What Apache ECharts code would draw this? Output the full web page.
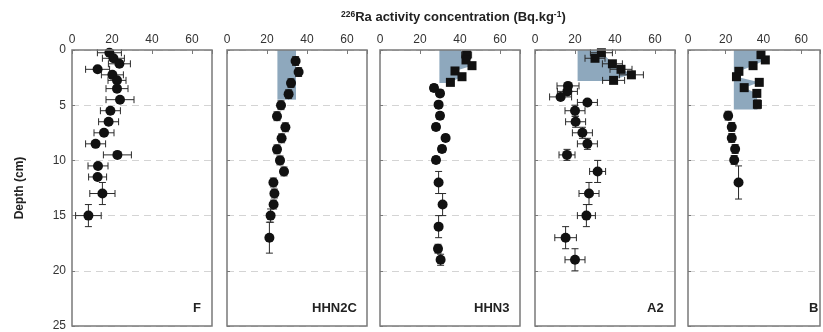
<!DOCTYPE html>
<html>
<head>
<meta charset="utf-8">
<script src="https://cdn.jsdelivr.net/npm/echarts@6/dist/echarts.min.js"></script>
<style>
  html, body { margin: 0; padding: 0; background: #fff; }
  #chart { width: 823px; height: 332px; }
</style>
</head>
<body>
<div id="chart"></div>
<script>
// panel names
var panelNames = ['F', 'HHN2C', 'HHN3', 'A2', 'B'];

// F
var fVal   = [18.7, 20.7, 23.7, 12.8, 20.2, 22.5, 22.5, 24, 19.2, 18.3, 16, 11.8, 22.7, 13, 12.8, 15.2, 8.2];
var fDepth = [0.25, 0.75, 1.25, 1.75, 2.25, 2.75, 3.5, 4.5, 5.5, 6.5, 7.5, 8.5, 9.5, 10.5, 11.5, 13, 15];
var fXErr  = [6, 5.5, 5.5, 6, 5.5, 4.5, 5.5, 7, 5, 5, 5, 5, 7, 5, 4.5, 6.3, 6.4];
var fYErr  = [0, 0, 0, 0, 0, 0, 0, 0, 0, 0, 0, 0, 0, 0, 0, 1, 1];

// HHN2C
var h2Val   = [34.3, 35.8, 32, 30.8, 27, 25, 29.2, 27.3, 25, 26.5, 28.5, 23.2, 23.7, 23.3, 21.8, 21.2];
var h2Depth = [1, 2, 3, 4, 5, 6, 7, 8, 9, 10, 11, 12, 13, 14, 15, 17];
var h2XErr  = [1.5, 1.5, 1.5, 1.5, 1.5, 1.5, 1.5, 1.5, 1.5, 1.5, 1.5, 1.5, 1.5, 1.5, 1.5, 1.5];
var h2YErr  = [0.4, 0.4, 0.4, 0.4, 0.4, 0.4, 0.4, 0.4, 0.4, 0.4, 0.4, 0.4, 0.4, 0.4, 0.6, 1.4];
var h2Shade = [[25.2, 0], [34.5, 0], [34.5, 4.5], [25.2, 4.5]];
var h2Squares = 0;

// HHN3
var h3Val   = [43.3, 43, 46, 37.5, 41, 35.2, 27, 30, 29.3, 30, 28, 32.8, 31, 28, 29.3, 31.3, 29.3, 29, 30.3];
var h3Depth = [0.45, 0.9, 1.42, 1.9, 2.42, 2.93, 3.44, 3.93, 4.95, 5.95, 6.97, 7.97, 8.97, 9.96, 12, 14, 16, 18, 19];
var h3XErr  = [2.5, 1.5, 1.5, 1.5, 1.5, 1.5, 1.7, 1.5, 1.5, 1.5, 1.5, 1.5, 1.5, 1.5, 1.5, 1.5, 1.5, 1.5, 1.5];
var h3YErr  = [0.3, 0.3, 0.3, 0.3, 0.3, 0.3, 0.3, 0.3, 0.3, 0.3, 0.3, 0.3, 0.3, 0.3, 1, 1, 1, 0.4, 0.5];
var h3Shade = [[29.7, 0], [40, 0], [43.3, 0.45], [43, 0.9], [46, 1.42], [37.5, 1.9], [41, 2.42], [35.2, 2.93], [35.2, 3.0], [29.7, 3.0]];
var h3Squares = 6;

// A2
var a2Val   = [33.2, 30, 38.7, 43, 48.2, 39.3, 16.5, 16.2, 12.8, 26.2, 20, 20.3, 23.7, 26.2, 16, 31.3, 27, 25.7, 15.3, 20];
var a2Depth = [0.25, 0.75, 1.25, 1.75, 2.25, 2.75, 3.25, 3.75, 4.25, 4.75, 5.5, 6.5, 7.5, 8.5, 9.5, 11, 13, 15, 17, 19];
var a2XErr  = [5.5, 5, 5, 5.5, 6, 5.5, 5.5, 5, 5.5, 5, 5, 5, 5, 5, 4, 4, 5, 4.5, 5.4, 5];
var a2YErr  = [0.25, 0.25, 0.25, 0.25, 0.25, 0.25, 0.25, 0.25, 0.25, 0.25, 0.5, 0.5, 0.5, 0.5, 0.5, 1, 1, 1, 1, 1];
var a2Shade = [[21.3, 0], [33.2, 0], [33.2, 0.21], [38.7, 1.18], [43, 1.69], [48.2, 2.17], [39.3, 2.69], [39.3, 2.8], [21.3, 2.8]];
var a2Squares = 6;

// B
var bVal   = [38.7, 41, 34.5, 27, 25.7, 37.8, 29.8, 36.5, 36.8, 21.3, 23.2, 23.2, 25, 24.5, 26.8];
var bDepth = [0.42, 0.9, 1.42, 1.93, 2.42, 2.93, 3.41, 3.93, 4.92, 5.95, 6.97, 7.97, 8.97, 9.96, 12];
var bXErr  = [1.5, 1.5, 1.5, 1.5, 1.5, 1.5, 1.5, 1.5, 1.5, 1.5, 1.5, 1.5, 1.5, 1.5, 1.5];
var bYErr  = [0.3, 0.3, 0.3, 0.3, 0.3, 0.3, 0.3, 0.3, 0.4, 0.4, 0.4, 0.4, 0.4, 0.4, 1.5];
var bShade = [[24.3, 0], [35.7, 0], [38.7, 0.42], [41, 0.9], [34.5, 1.42], [27, 1.93], [25.7, 2.42], [37.8, 2.93], [29.8, 3.41], [36.5, 3.93], [36.8, 4.92], [36.8, 5.4], [24.3, 5.4]];
var bSquares = 9;

var xTicks = [0, 20, 40, 60];
var yTicks = [0, 5, 10, 15, 20, 25];

var panels = [
    { val: fVal, depth: fDepth, xErr: fXErr, yErr: fYErr, shade: null, squares: 0 },
    { val: h2Val, depth: h2Depth, xErr: h2XErr, yErr: h2YErr, shade: h2Shade, squares: h2Squares },
    { val: h3Val, depth: h3Depth, xErr: h3XErr, yErr: h3YErr, shade: h3Shade, squares: h3Squares },
    { val: a2Val, depth: a2Depth, xErr: a2XErr, yErr: a2YErr, shade: a2Shade, squares: a2Squares },
    { val: bVal, depth: bDepth, xErr: bXErr, yErr: bYErr, shade: bShade, squares: bSquares }
];

var gridLefts = [72, 227, 380, 535, 688];
var font = 'Liberation Sans, Arial, sans-serif';
var shadeColor = '#8ea8bd';

var grids = [], xAxes = [], yAxes = [], series = [], graphics = [];

panels.forEach(function (p, i) {
    grids.push({
        left: gridLefts[i], top: 50, width: 140, height: 276,
        show: true, borderColor: '#7a7a7a', borderWidth: 1.5, z: 5
    });
    xAxes.push({
        gridIndex: i, type: 'value', position: 'top',
        min: 0, max: 70, interval: 20,
        axisLine: { show: false },
        axisTick: { show: true, inside: true, length: 4, lineStyle: { color: '#7a7a7a' } },
        splitLine: { show: false },
        axisLabel: {
            color: '#333', fontSize: 12, fontFamily: font, margin: 4,
            formatter: function (v) { return xTicks.indexOf(v) >= 0 ? String(v) : ''; }
        }
    });
    yAxes.push({
        gridIndex: i, type: 'value', inverse: true,
        min: 0, max: 25, interval: 5,
        name: i === 0 ? 'Depth (cm)' : '',
        nameLocation: 'middle', nameGap: 46, nameRotate: 90,
        nameTextStyle: { fontWeight: 'bold', fontSize: 12, fontFamily: font, color: '#222' },
        axisLine: { show: false },
        axisTick: { show: true, inside: true, length: 3, lineStyle: { color: '#7a7a7a' } },
        splitLine: { show: true, lineStyle: { color: '#d4d4d4', type: [7, 5], width: 1 } },
        axisLabel: {
            show: i === 0, color: '#333', fontSize: 12, fontFamily: font, margin: 6,
            formatter: function (v) { return yTicks.indexOf(v) >= 0 ? String(v) : ''; }
        }
    });

    if (p.shade) {
        var shadePts = p.shade;
        series.push({
            type: 'custom', xAxisIndex: i, yAxisIndex: i, z: 1, silent: true,
            data: shadePts,
            renderItem: function (params, api) {
                if (params.dataIndex !== 0) return;
                return {
                    type: 'polygon',
                    shape: { points: shadePts.map(function (d) { return api.coord(d); }) },
                    style: { fill: shadeColor }
                };
            }
        });
    }

    var errData = p.val.map(function (v, k) { return [v, p.depth[k], p.xErr[k], p.yErr[k]]; });
    series.push({
        type: 'custom', xAxisIndex: i, yAxisIndex: i, z: 3, silent: true,
        data: errData,
        renderItem: function (params, api) {
            var x = api.value(0), y = api.value(1), ex = api.value(2), ey = api.value(3);
            var st = { stroke: '#2a2a2a', lineWidth: 1 };
            var kids = [];
            var cap = 3.5;
            if (ex > 0) {
                var l = api.coord([x - ex, y]), r = api.coord([x + ex, y]);
                kids.push({ type: 'line', shape: { x1: l[0], y1: l[1], x2: r[0], y2: r[1] }, style: st });
                kids.push({ type: 'line', shape: { x1: l[0], y1: l[1] - cap, x2: l[0], y2: l[1] + cap }, style: st });
                kids.push({ type: 'line', shape: { x1: r[0], y1: r[1] - cap, x2: r[0], y2: r[1] + cap }, style: st });
            }
            if (ey > 0) {
                var t = api.coord([x, y - ey]), b = api.coord([x, y + ey]);
                kids.push({ type: 'line', shape: { x1: t[0], y1: t[1], x2: b[0], y2: b[1] }, style: st });
                kids.push({ type: 'line', shape: { x1: t[0] - cap, y1: t[1], x2: t[0] + cap, y2: t[1] }, style: st });
                kids.push({ type: 'line', shape: { x1: b[0] - cap, y1: b[1], x2: b[0] + cap, y2: b[1] }, style: st });
            }
            return { type: 'group', children: kids };
        }
    });

    var nSq = p.squares;
    series.push({
        type: 'scatter', xAxisIndex: i, yAxisIndex: i, z: 4, silent: true,
        data: p.val.map(function (v, k) { return [v, p.depth[k]]; }),
        symbol: function (value, params) { return params.dataIndex < nSq ? 'rect' : 'circle'; },
        symbolSize: function (value, params) { return params.dataIndex < nSq ? 9 : 10; },
        itemStyle: { color: '#111', opacity: 1 }
    });

    graphics.push({
        type: 'text', left: gridLefts[i] + 130 - panelNames[i].length * 9, top: 302,
        style: { text: panelNames[i], font: 'bold 13px ' + font, fill: '#222', textAlign: 'left' }
    });
});

var chart = echarts.init(document.getElementById('chart'), null, { renderer: 'canvas' });
chart.setOption({
    animation: false,
    backgroundColor: '#fff',
    title: {
        text: '{sup|226}Ra activity concentration (Bq.kg{sup|-1})',
        left: 336, top: 5,
        textStyle: {
            fontSize: 13, fontWeight: 'bold', fontFamily: font, color: '#222',
            rich: {
                sup: { fontSize: 8.5, fontWeight: 'bold', fontFamily: font, color: '#222', verticalAlign: 'top', padding: [0, 0, 6, 0] }
            }
        }
    },
    grid: grids,
    xAxis: xAxes,
    yAxis: yAxes,
    series: series,
    graphic: graphics
});
</script>
</body>
</html>
